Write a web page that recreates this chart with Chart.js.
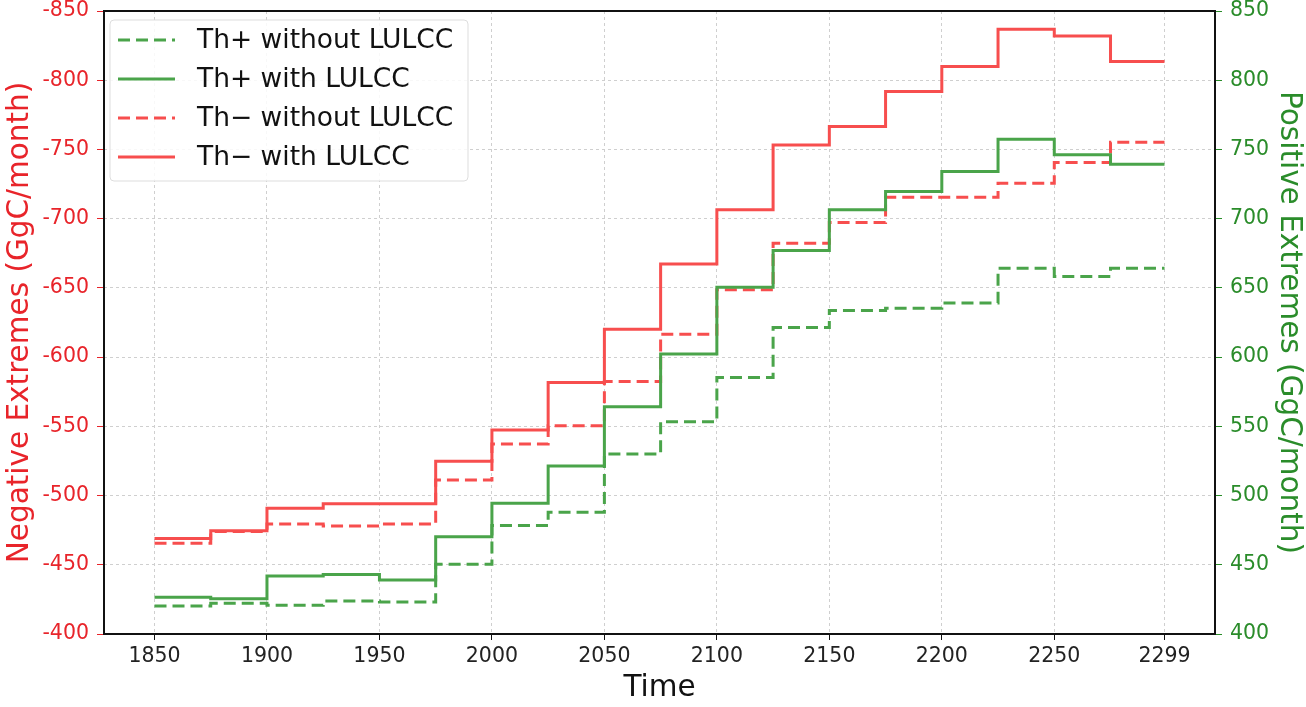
<!DOCTYPE html>
<html>
<head>
<meta charset="utf-8">
<script src="https://cdn.jsdelivr.net/npm/chart.js@4.4.1/dist/chart.umd.min.js"></script>
<style>
  html, body { margin: 0; padding: 0; background: #ffffff; }
</style>
</head>
<body>
<canvas id="chart" width="1306" height="707"></canvas>
<script>
// step start years (last value repeated at 2299 to close the final step)
const years = [1850, 1875, 1900, 1925, 1950, 1975, 2000, 2025, 2050, 2075,
               2100, 2125, 2150, 2175, 2200, 2225, 2250, 2275, 2299];
const xTicks = [1850, 1900, 1950, 2000, 2050, 2100, 2150, 2200, 2250, 2299];

// positive extremes (right axis)
const thPlusWithout = [420.2, 422.2, 420.7, 423.8, 423.1, 450.4, 478.3, 488.0, 530.0, 553.4,
                       585.2, 621.3, 633.6, 635.3, 639.0, 664.2, 658.2, 664.2, 664.2];
const thPlusWith = [426.5, 425.5, 441.9, 442.9, 439.0, 470.3, 494.4, 521.4, 564.2, 602.3,
                    650.5, 677.0, 706.4, 719.6, 734.0, 757.4, 746.1, 739.3, 739.3];

// negative extremes (left axis)
const thMinusWithout = [-465.5, -474.0, -479.5, -478.0, -479.5, -511.3, -537.3, -550.5, -582.3, -616.5,
                        -648.6, -682.3, -697.2, -715.5, -715.5, -725.6, -740.5, -755.2, -755.2];
const thMinusWith = [-468.9, -474.6, -490.8, -494.0, -494.0, -524.8, -547.4, -581.6, -620.2, -667.3,
                     -706.4, -753.3, -766.6, -791.8, -809.9, -836.9, -832.0, -813.5, -813.5];

const RED_LINE = '#f74e4e';
const GREEN_LINE = '#4aa44a';
const RED_TEXT = '#e8242a';
const GREEN_TEXT = '#2a8c2a';
const FONT = "'DejaVu Sans', sans-serif";

const toPoints = (vals) => vals.map((v, i) => ({ x: years[i], y: v }));

const frameAndLegend = {
    id: 'frameAndLegend',
    afterDatasetsDraw(chart) {
        const ctx = chart.ctx;
        const a = chart.chartArea;
        ctx.save();
        // plot box
        ctx.strokeStyle = '#111111';
        ctx.lineWidth = 2;
        ctx.setLineDash([]);
        ctx.strokeRect(a.left, a.top, a.right - a.left, a.bottom - a.top);

        // legend in upper left
        const x0 = a.left + 6, y0 = a.top + 9, w = 358, h = 161;
        ctx.fillStyle = 'rgba(255,255,255,0.85)';
        ctx.strokeStyle = '#dddddd';
        ctx.lineWidth = 1;
        ctx.beginPath();
        ctx.roundRect(x0, y0, w, h, 4);
        ctx.fill();
        ctx.stroke();

        ctx.font = '26.5px ' + FONT;
        ctx.textBaseline = 'middle';
        ctx.textAlign = 'left';
        chart.data.datasets.forEach((ds, i) => {
            const y = y0 + 20 + i * 39;
            ctx.strokeStyle = ds.borderColor;
            ctx.lineWidth = ds.borderWidth;
            ctx.lineCap = 'butt';
            ctx.setLineDash(ds.borderDash || []);
            ctx.beginPath();
            ctx.moveTo(x0 + 8, y);
            ctx.lineTo(x0 + 65, y);
            ctx.stroke();
            ctx.fillStyle = '#111111';
            ctx.fillText(ds.label, x0 + 87, y + 1);
        });
        ctx.restore();
    }
};

// keep the plot box fixed: no extra room for half-labels at the ends
const noEndPadding = (scale) => {
    scale.paddingTop = 0;
    scale.paddingBottom = 0;
    scale.paddingLeft = 0;
    scale.paddingRight = 0;
};

new Chart(document.getElementById('chart'), {
    type: 'line',
    data: {
        datasets: [
            {
                label: 'Th+ without LULCC',
                data: toPoints(thPlusWithout),
                yAxisID: 'yPos',
                borderColor: GREEN_LINE,
                borderDash: [12, 6],
                borderWidth: 3,
                stepped: true,
                pointRadius: 0,
                fill: false
            },
            {
                label: 'Th+ with LULCC',
                data: toPoints(thPlusWith),
                yAxisID: 'yPos',
                borderColor: GREEN_LINE,
                borderWidth: 3,
                stepped: true,
                pointRadius: 0,
                fill: false
            },
            {
                label: 'Th\u2212 without LULCC',
                data: toPoints(thMinusWithout),
                yAxisID: 'yNeg',
                borderColor: RED_LINE,
                borderDash: [12, 6],
                borderWidth: 3,
                stepped: true,
                pointRadius: 0,
                fill: false
            },
            {
                label: 'Th\u2212 with LULCC',
                data: toPoints(thMinusWith),
                yAxisID: 'yNeg',
                borderColor: RED_LINE,
                borderWidth: 3,
                stepped: true,
                pointRadius: 0,
                fill: false
            }
        ]
    },
    options: {
        responsive: false,
        animation: false,
        layout: { padding: { top: 11, bottom: 0, left: 0, right: 0 } },
        plugins: {
            legend: { display: false },
            tooltip: { enabled: false }
        },
        scales: {
            x: {
                type: 'linear',
                min: 1827.55,
                max: 2321.45,
                afterBuildTicks: (scale) => {
                    scale.ticks = xTicks.map(v => ({ value: v }));
                },
                afterFit: (scale) => { scale.height = 73; noEndPadding(scale); },
                grid: {
                    color: '#cfcfcf',
                    tickColor: '#111111',
                    tickLength: 6,
                    tickBorderDash: []
                },
                border: { display: false, dash: [3, 3] },
                ticks: {
                    autoSkip: false,
                    maxRotation: 0,
                    padding: 6,
                    color: '#222222',
                    font: { family: FONT, size: 20.5, lineHeight: 1 },
                    callback: (v) => String(v)
                },
                title: {
                    display: true,
                    text: 'Time',
                    color: '#111111',
                    padding: { top: 0, bottom: 1 },
                    font: { family: FONT, size: 29.5 }
                }
            },
            yNeg: {
                type: 'linear',
                position: 'left',
                reverse: true,
                min: -850,
                max: -400,
                afterFit: (scale) => { scale.width = 104; noEndPadding(scale); },
                grid: {
                    color: '#cfcfcf',
                    tickColor: RED_TEXT,
                    tickLength: 7,
                    tickBorderDash: []
                },
                border: { display: false, dash: [3, 3] },
                ticks: {
                    stepSize: 50,
                    padding: 8,
                    color: RED_TEXT,
                    font: { family: FONT, size: 20.5, lineHeight: 1 },
                    callback: (v) => String(v)
                },
                title: {
                    display: true,
                    text: 'Negative Extremes (GgC/month)',
                    color: RED_TEXT,
                    padding: { top: 3, bottom: 0 },
                    font: { family: FONT, size: 29.5 }
                }
            },
            yPos: {
                type: 'linear',
                position: 'right',
                min: 400,
                max: 850,
                afterFit: (scale) => { scale.width = 91; noEndPadding(scale); },
                grid: {
                    drawOnChartArea: false,
                    tickColor: GREEN_TEXT,
                    tickLength: 7,
                    tickBorderDash: []
                },
                border: { display: false },
                ticks: {
                    stepSize: 50,
                    padding: 8,
                    color: GREEN_TEXT,
                    font: { family: FONT, size: 20.5, lineHeight: 1 },
                    callback: (v) => String(v)
                },
                title: {
                    display: true,
                    text: 'Positive Extremes (GgC/month)',
                    color: GREEN_TEXT,
                    padding: { top: 0, bottom: 0 },
                    font: { family: FONT, size: 29.5 }
                }
            }
        }
    },
    plugins: [frameAndLegend]
});
</script>
</body>
</html>
